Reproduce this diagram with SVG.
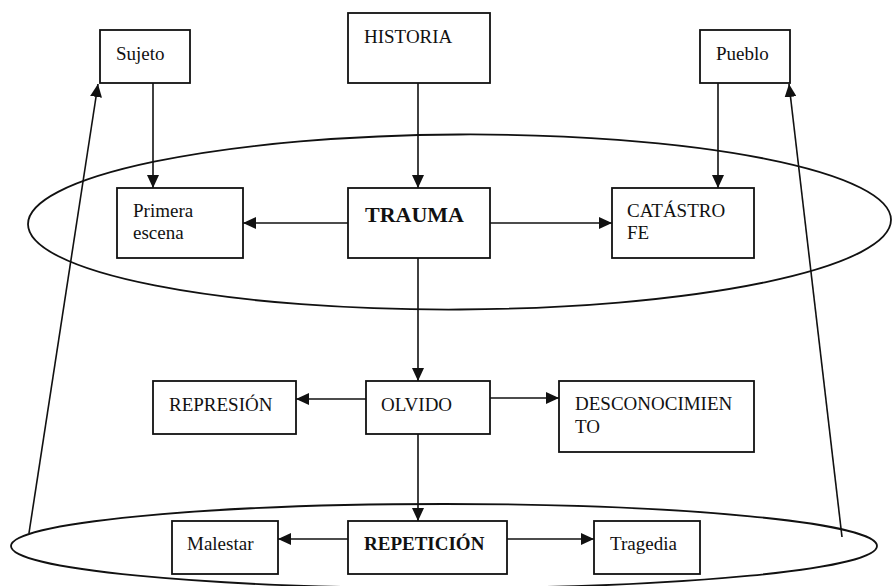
<svg xmlns="http://www.w3.org/2000/svg" width="892" height="586" viewBox="0 0 892 586">
<style>
.box{fill:#fff;stroke:#111;stroke-width:1.8}
.t{font-family:"Liberation Serif","Times New Roman",serif;font-size:19px;fill:#111}
.b{font-weight:bold}
.c{stroke:#111;stroke-width:1.6;fill:none;marker-end:url(#ah)}
.ell{fill:none;stroke:#111;stroke-width:1.8}
</style>
<defs>
<marker id="ah" markerUnits="userSpaceOnUse" markerWidth="14" markerHeight="12" refX="13" refY="6" orient="auto">
<path d="M0,0 L13,6 L0,12 Z" fill="#111"/>
</marker>
</defs>
<rect width="892" height="586" fill="#fff"/>
<g id="ellipses">
<ellipse class="ell" cx="459.5" cy="222" rx="431.5" ry="87.5" transform="rotate(-0.3 459.5 222)"/>
<ellipse class="ell" cx="444" cy="546" rx="433" ry="42"/>
</g>
<g id="connectors">
<line class="c" x1="153" y1="83" x2="153" y2="188"/>
<line class="c" x1="418" y1="83" x2="418" y2="188"/>
<line class="c" x1="718" y1="83" x2="718" y2="188"/>
<line class="c" x1="348" y1="223" x2="243" y2="223"/>
<line class="c" x1="490" y1="223" x2="612" y2="223"/>
<line class="c" x1="418" y1="258" x2="418" y2="381"/>
<line class="c" x1="366" y1="399" x2="296" y2="399"/>
<line class="c" x1="490" y1="398" x2="559" y2="398"/>
<line class="c" x1="418" y1="434" x2="418" y2="521"/>
<line class="c" x1="348" y1="539" x2="278" y2="539"/>
<line class="c" x1="507" y1="539" x2="594" y2="539"/>
<line class="c" x1="29" y1="533" x2="98" y2="84"/>
<line class="c" x1="842" y1="537" x2="789" y2="84"/>
</g>
<g id="sujeto"><rect class="box" x="100" y="30" width="90" height="53"/><text class="t" x="116" y="60">Sujeto</text></g>
<g id="historia"><rect class="box" x="348" y="13" width="142" height="70"/><text class="t" x="364" y="43">HISTORIA</text></g>
<g id="pueblo"><rect class="box" x="700" y="30" width="90" height="53"/><text class="t" x="716" y="60">Pueblo</text></g>
<g id="primera"><rect class="box" x="117" y="188" width="126" height="70"/><text class="t" x="133" y="217">Primera</text><text class="t" x="133" y="239">escena</text></g>
<g id="trauma"><rect class="box" x="348" y="188" width="142" height="70"/><text class="t b" x="365" y="222" style="font-size:22px">TRAUMA</text></g>
<g id="catastrofe"><rect class="box" x="612" y="188" width="142" height="70"/><text class="t" x="627" y="217">CATÁSTRO</text><text class="t" x="627" y="239">FE</text></g>
<g id="represion"><rect class="box" x="153" y="381" width="143" height="53"/><text class="t" x="169" y="411">REPRESIÓN</text></g>
<g id="olvido"><rect class="box" x="366" y="381" width="124" height="53"/><text class="t" x="381" y="411">OLVIDO</text></g>
<g id="desconocimiento"><rect class="box" x="559" y="381" width="195" height="71"/><text class="t" x="575" y="410">DESCONOCIMIEN</text><text class="t" x="575" y="433">TO</text></g>
<g id="malestar"><rect class="box" x="172" y="521" width="106" height="53"/><text class="t" x="187" y="550">Malestar</text></g>
<g id="repeticion"><rect class="box" x="348" y="521" width="159" height="53"/><text class="t b" x="364" y="550">REPETICIÓN</text></g>
<g id="tragedia"><rect class="box" x="594" y="521" width="106" height="53"/><text class="t" x="610" y="550">Tragedia</text></g>
</svg>
